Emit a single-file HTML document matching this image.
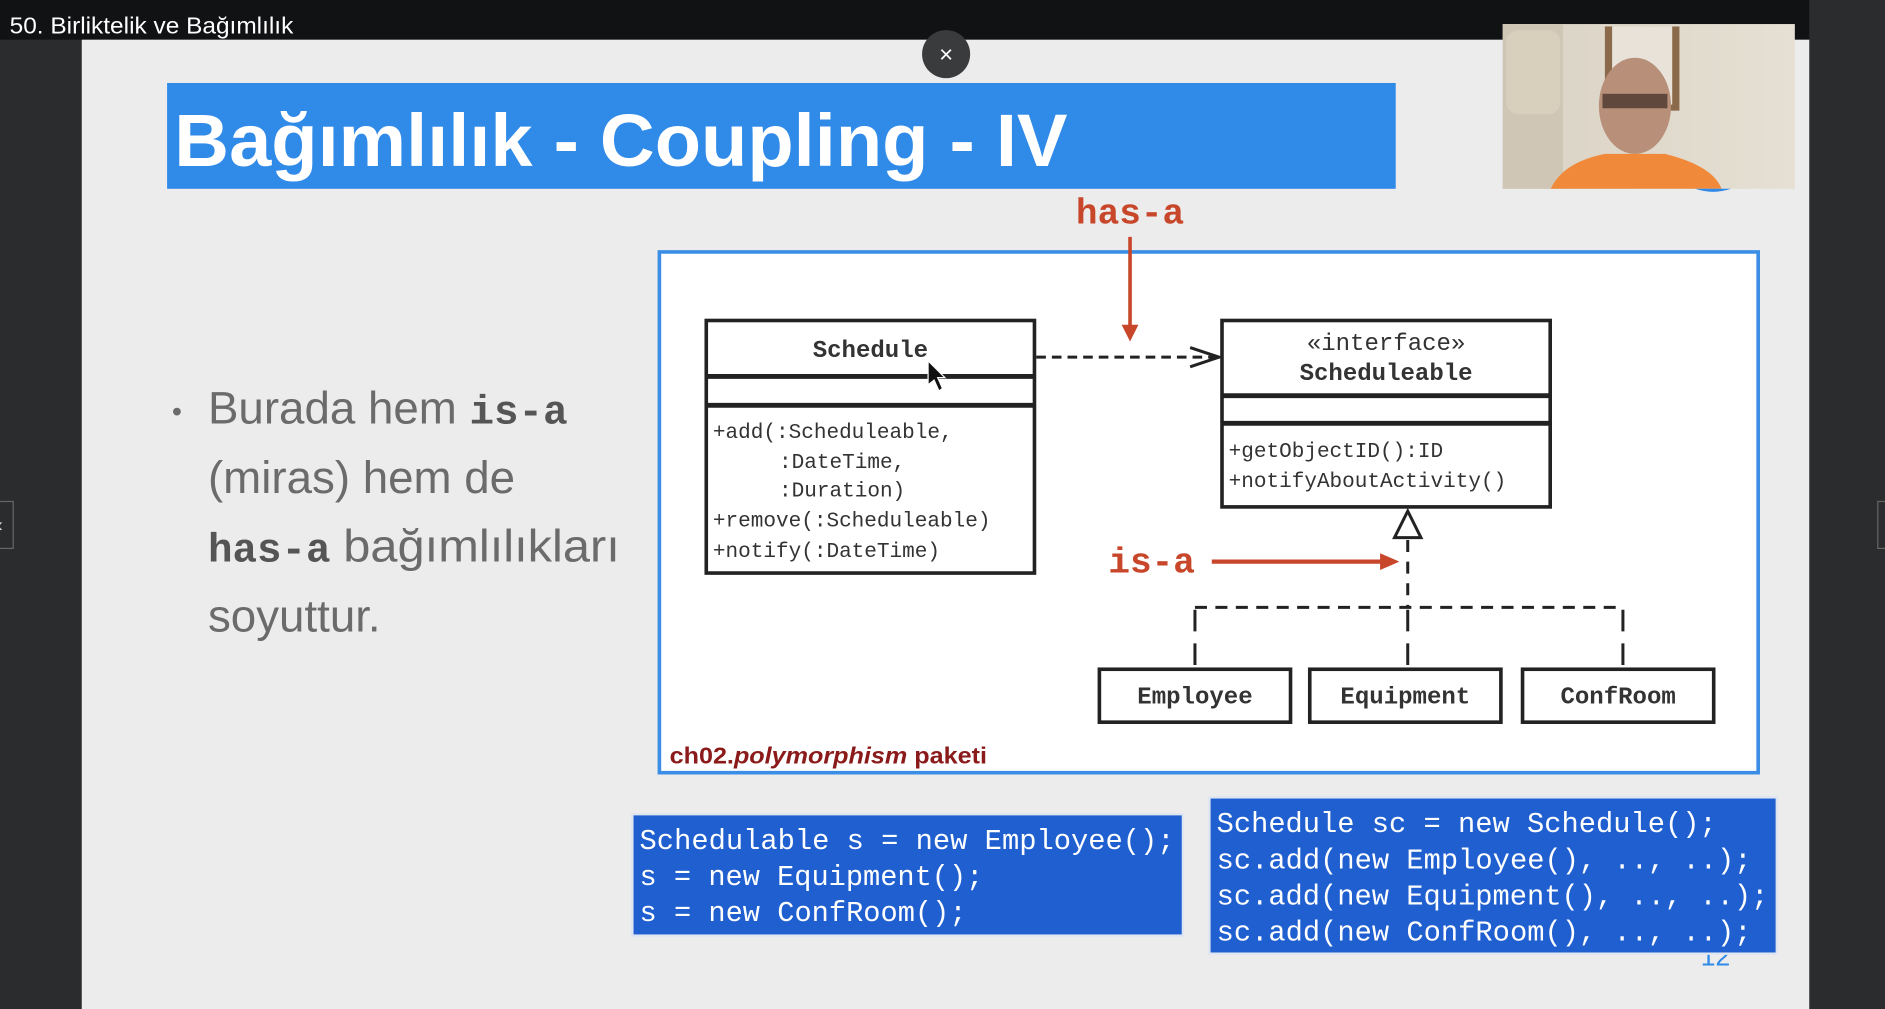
<!DOCTYPE html>
<html><head><meta charset="utf-8"><style>
html,body{margin:0;padding:0;background:#2b2c2e;overflow:hidden}
svg{display:block}
</style></head><body>
<svg width="1885" height="1009" viewBox="0 0 1568 839" preserveAspectRatio="none" xmlns="http://www.w3.org/2000/svg">
<defs>
<linearGradient id="wall" x1="0" y1="0" x2="1" y2="0"><stop offset="0" stop-color="#d9d2c4"/><stop offset="1" stop-color="#e6e0d4"/></linearGradient>
</defs>
<rect x="0" y="0" width="1568" height="839" fill="#2b2c2e"/>
<rect x="0" y="0" width="1505" height="33" fill="#111214"/>
<rect x="68" y="33" width="1437" height="806" fill="#ececec"/>
<text x="8" y="28" font-family="Liberation Sans, sans-serif" font-size="19" fill="#fff" textLength="236" lengthAdjust="spacingAndGlyphs">50. Birliktelik ve Bağımlılık</text>
<rect x="-2" y="417" width="13" height="39" fill="#2b2c2e" stroke="#666" stroke-width="1"/>
<text x="-3" y="442" font-family="Liberation Sans, sans-serif" font-size="16" fill="#ddd">‹</text>
<rect x="1562" y="417" width="10" height="39" fill="#2b2c2e" stroke="#666" stroke-width="1"/>
<rect x="139" y="69" width="1022" height="88" fill="#2f8ae8"/>
<text x="145" y="138" font-family="Liberation Sans, sans-serif" font-weight="bold" font-size="62" fill="#fff" textLength="743" lengthAdjust="spacingAndGlyphs">Bağımlılık - Coupling - IV</text>
<circle cx="787" cy="45" r="20" fill="#3a3b3d"/>
<text x="787" y="52" text-anchor="middle" font-family="Liberation Sans, sans-serif" font-size="20" fill="#fff">×</text>
<rect x="1250" y="20" width="243" height="137" fill="url(#wall)"/>
<rect x="1250" y="20" width="50" height="137" fill="#cfc6b6"/>
<rect x="1253" y="25" width="45" height="70" rx="10" fill="#d8cfbd"/>
<rect x="1335" y="22" width="62" height="70" fill="#8a6a4a"/>
<rect x="1341" y="22" width="50" height="65" fill="#e8e2d8"/>
<ellipse cx="1360" cy="88" rx="30" ry="40" fill="#b88f78"/>
<rect x="1333" y="78" width="54" height="12" fill="#3a2a22" opacity="0.7"/>
<path d="M1290 157 Q1300 135 1335 128 L1385 128 Q1425 138 1432 157 Z" fill="#f08a3a"/>
<path d="M1410 157 Q1425 162 1440 157 Z" fill="#2f8ae8"/>
<g font-family="Liberation Sans, sans-serif" font-size="38" fill="#6b6b6b">
<text x="143" y="350" font-size="24">•</text>
<text x="173" y="352">Burada hem <tspan font-family="Liberation Mono, monospace" font-weight="bold" font-size="34" fill="#555">is-a</tspan></text>
<text x="173" y="410">(miras) hem de</text>
<text x="173" y="467"><tspan font-family="Liberation Mono, monospace" font-weight="bold" font-size="34" fill="#555">has-a</tspan> <tspan textLength="230" lengthAdjust="spacingAndGlyphs">bağımlılıkları</tspan></text>
<text x="173" y="525">soyuttur.</text>
</g>
<rect x="548.5" y="209.5" width="914" height="433" fill="#fff" stroke="#3a8ee6" stroke-width="3"/>
<text x="940" y="186" text-anchor="middle" font-family="Liberation Mono, monospace" font-weight="bold" font-size="30" fill="#c8462a">has-a</text>
<line x1="940" y1="197" x2="940" y2="272" stroke="#c8462a" stroke-width="3"/>
<polygon points="933,270 947,270 940,284" fill="#c8462a"/>
<g stroke="#222" fill="none">
<rect x="587.5" y="266.5" width="273" height="210" stroke-width="3"/>
<line x1="587" y1="313" x2="860" y2="313" stroke-width="4"/>
<line x1="587" y1="337" x2="860" y2="337" stroke-width="4"/>
<rect x="1016.5" y="266.5" width="273" height="155" stroke-width="3"/>
<line x1="1016" y1="329" x2="1289" y2="329" stroke-width="4"/>
<line x1="1016" y1="352" x2="1289" y2="352" stroke-width="4"/>
<line x1="862" y1="297" x2="1010" y2="297" stroke-width="2.5" stroke-dasharray="8,5"/>
<polyline points="990,289 1014,297 990,305" stroke-width="2.5"/>
<polygon points="1171,425 1160,447 1182,447" stroke-width="2.5" fill="#fff"/>
<line x1="1171" y1="449" x2="1171" y2="505" stroke-width="2.5" stroke-dasharray="10,8"/>
<line x1="994" y1="505" x2="1350" y2="505" stroke-width="2.5" stroke-dasharray="10,7"/>
<line x1="994" y1="507" x2="994" y2="555" stroke-width="2.5" stroke-dasharray="18,10"/>
<line x1="1171" y1="507" x2="1171" y2="555" stroke-width="2.5" stroke-dasharray="18,10"/>
<line x1="1350" y1="507" x2="1350" y2="555" stroke-width="2.5" stroke-dasharray="18,10"/>
<rect x="914.5" y="556.5" width="159" height="44" stroke-width="3"/>
<rect x="1089.5" y="556.5" width="159" height="44" stroke-width="3"/>
<rect x="1266.5" y="556.5" width="159" height="44" stroke-width="3"/>
</g>
<g font-family="Liberation Mono, monospace" fill="#333">
<text x="724" y="297" text-anchor="middle" font-weight="bold" font-size="20">Schedule</text>
<g font-size="17.5">
<text x="593" y="364">+add(:Scheduleable,</text>
<text x="648" y="389">:DateTime,</text>
<text x="648" y="413">:Duration)</text>
<text x="593" y="438">+remove(:Scheduleable)</text>
<text x="593" y="463">+notify(:DateTime)</text>
<text x="1022" y="380">+getObjectID():ID</text>
<text x="1022" y="405">+notifyAboutActivity()</text>
</g>
<text x="1153" y="291" text-anchor="middle" font-size="20">«interface»</text>
<text x="1153" y="316" text-anchor="middle" font-weight="bold" font-size="20">Scheduleable</text>
<g font-weight="bold" font-size="20" text-anchor="middle">
<text x="994" y="585">Employee</text>
<text x="1169" y="585">Equipment</text>
<text x="1346" y="585">ConfRoom</text>
</g>
</g>
<polygon points="772,300 772,320 777,316 781,325 784,323 780,314 786,314" fill="#111" stroke="#fff" stroke-width="1"/>
<text x="958" y="476" text-anchor="middle" font-family="Liberation Mono, monospace" font-weight="bold" font-size="30" fill="#c8462a">is-a</text>
<line x1="1008" y1="467" x2="1150" y2="467" stroke="#c8462a" stroke-width="3.5"/>
<polygon points="1148,460 1164,467 1148,474" fill="#c8462a"/>
<text x="557" y="635" font-family="Liberation Sans, sans-serif" font-weight="bold" font-size="19" fill="#8b1a1a" textLength="264" lengthAdjust="spacingAndGlyphs">ch02.<tspan font-style="italic">polymorphism</tspan> paketi</text>
<text x="1427" y="803" text-anchor="middle" font-family="Liberation Sans, sans-serif" font-size="22" fill="#2f8ae8">12</text>
<rect x="526" y="677" width="458" height="101" fill="#1f5fcf" stroke="#dfe6f2" stroke-width="2"/>
<rect x="1006" y="663" width="472" height="130" fill="#1f5fcf" stroke="#dfe6f2" stroke-width="2"/>
<g font-family="Liberation Mono, monospace" font-size="24" fill="#fff">
<text x="532" y="706" textLength="445" lengthAdjust="spacingAndGlyphs">Schedulable s = new Employee();</text>
<text x="532" y="736" textLength="286" lengthAdjust="spacingAndGlyphs">s = new Equipment();</text>
<text x="532" y="766" textLength="272" lengthAdjust="spacingAndGlyphs">s = new ConfRoom();</text>
<text x="1012" y="692" textLength="416" lengthAdjust="spacingAndGlyphs">Schedule sc = new Schedule();</text>
<text x="1012" y="722" textLength="445" lengthAdjust="spacingAndGlyphs">sc.add(new Employee(), .., ..);</text>
<text x="1012" y="752" textLength="459" lengthAdjust="spacingAndGlyphs">sc.add(new Equipment(), .., ..);</text>
<text x="1012" y="782" textLength="445" lengthAdjust="spacingAndGlyphs">sc.add(new ConfRoom(), .., ..);</text>
</g>
</svg>
</body></html>
